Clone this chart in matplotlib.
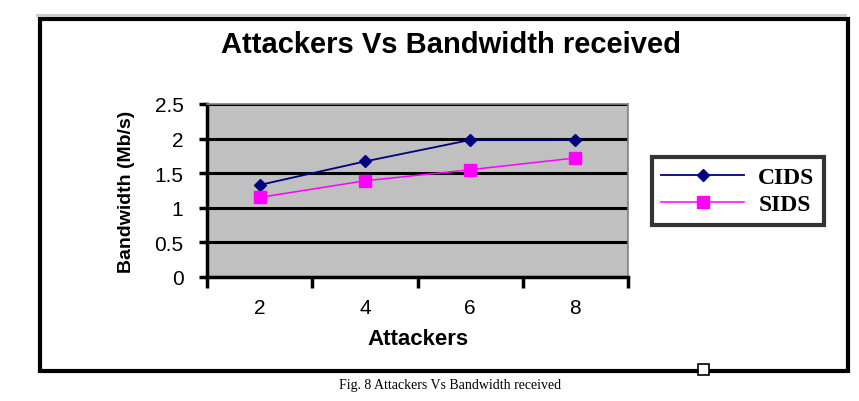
import matplotlib.pyplot as plt
from matplotlib.patches import Rectangle

attackers = ["2", "4", "6", "8"]
cids = [1.33, 1.67, 1.98, 1.98]
sids = [1.15, 1.39, 1.55, 1.72]
y_ticks = [0, 0.5, 1, 1.5, 2, 2.5]
y_labels = ["0", "0.5", "1", "1.5", "2", "2.5"]

plt.rcParams["font.family"] = ["Liberation Sans", "DejaVu Sans"]

fig = plt.figure(figsize=(8.59, 4.02), dpi=100)
fig.patch.set_facecolor("white")

# outer chart frame and page decorations
fig.add_artist(plt.Line2D([37 / 859, 845 / 859], [1 - 16 / 402, 1 - 16 / 402],
                          color="#c8c8c8", lw=2, transform=fig.transFigure))
fig.add_artist(Rectangle((40 / 859, 1 - 372 / 402), 808 / 859, 352 / 402,
                         fill=False, ec="black", lw=3, transform=fig.transFigure))
fig.add_artist(Rectangle((698 / 859, 1 - 376 / 402), 11 / 859, 11 / 402,
                         fc="white", ec="black", lw=1.2, transform=fig.transFigure, zorder=5))

ax = fig.add_axes([207 / 859, 1 - 278 / 402, 421 / 859, 173 / 402])
ax.set_facecolor("#c0c0c0")
x = list(range(len(attackers)))
ax.plot(x, cids, color="#000080", marker="D", ms=6, lw=1.3, label="CIDS", zorder=4)
ax.plot(x, sids, color="#ff00ff", marker="s", ms=8, lw=1.1, label="SIDS", zorder=4)

ax.set_xlim(-0.5, 3.5)
ax.set_ylim(0, 2.5)
ax.set_xticks([-0.5, 0.5, 1.5, 2.5, 3.5])
ax.set_xticklabels([])
ax.set_xticks(x, minor=True)
ax.set_xticklabels(attackers, minor=True)
ax.tick_params(axis="x", which="minor", length=0, pad=15, labelsize=15)
ax.tick_params(axis="x", which="major", length=8, width=2.5, direction="out")
ax.set_yticks(y_ticks)
ax.set_yticklabels(y_labels)
ax.tick_params(axis="y", length=6, width=2.5, direction="out", labelsize=15, pad=11)
ax.yaxis.grid(True, color="black", lw=2.2)
ax.set_axisbelow(True)
for s in ["top", "right"]:
    ax.spines[s].set_color("#808080")
    ax.spines[s].set_linewidth(1.2)
for s in ["left", "bottom"]:
    ax.spines[s].set_color("black")
    ax.spines[s].set_linewidth(2.5)

ax.set_xlabel("Attackers", fontsize=16, fontweight="bold", labelpad=8)
ax.set_ylabel("Bandwidth (Mb/s)", fontsize=14, fontweight="bold", labelpad=14)

fig.text(451 / 859, 1 - 45 / 402, "Attackers Vs Bandwidth received",
         ha="center", va="center", fontsize=21, fontweight="bold")

leg = fig.legend(loc="upper left", bbox_to_anchor=(652 / 859, 1 - 158 / 402),
                 borderaxespad=0,
                 prop={"family": "Liberation Serif", "weight": "bold", "size": 17},
                 frameon=True, fancybox=False, edgecolor="black",
                 handlelength=3.5, borderpad=0.4, labelspacing=0.25, handletextpad=0.6)
leg.get_frame().set_linewidth(3)

fig.text(450 / 859, 1 - 386 / 402, "Fig. 8 Attackers Vs Bandwidth received",
         ha="center", va="center", fontsize=10, family="Liberation Serif")

fig.savefig("out.png", dpi=100)
